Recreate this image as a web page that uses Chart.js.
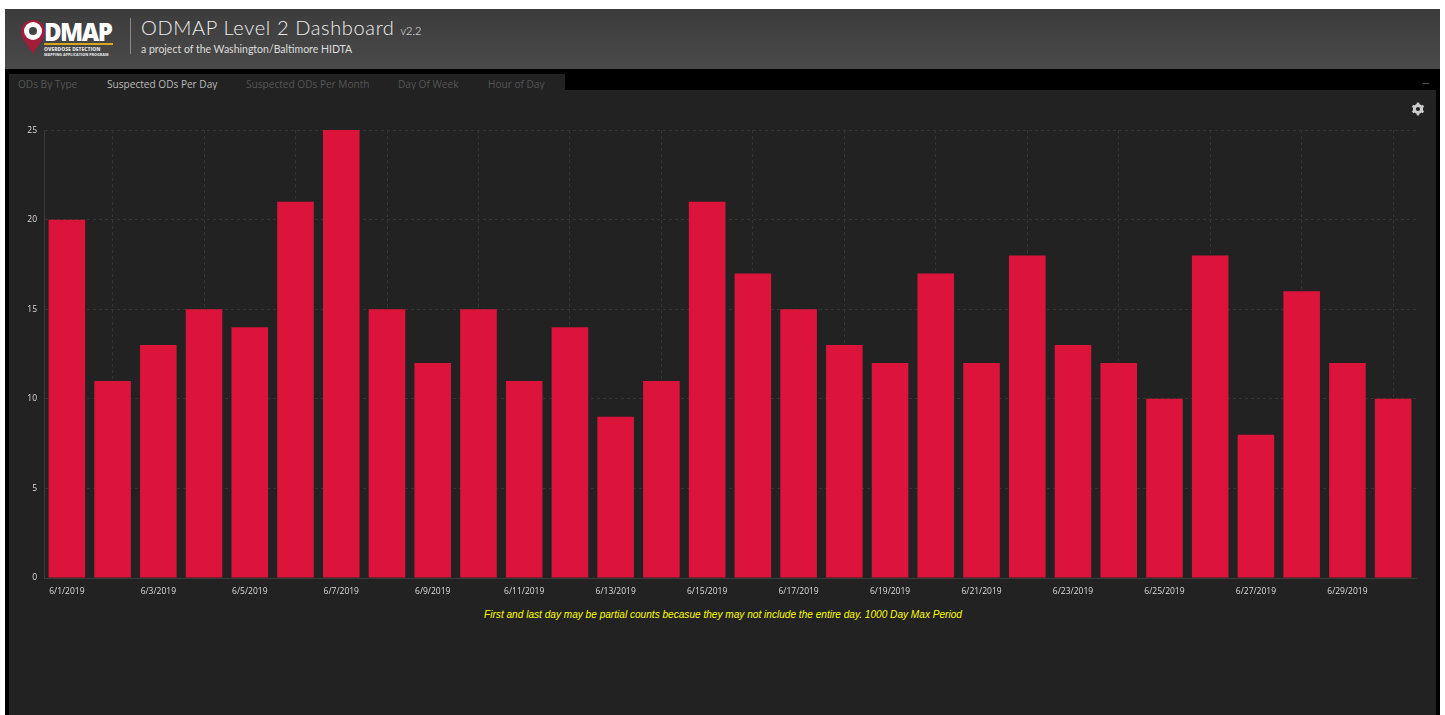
<!DOCTYPE html>
<html lang="en">
<head>
    <meta charset="UTF-8">
    <title>ODMAP Level 2 Dashboard</title>
    <script src="https://cdn.jsdelivr.net/npm/chart.js"></script>
    <style>
        html, body { margin: 0; padding: 0; background: #fff; overflow: hidden; }
        #page { position: relative; width: 1445px; height: 715px; overflow: hidden; }
        #black { position: absolute; left: 5px; top: 69px; width: 1435px; height: 646px; background: #000; }
        #header { position: absolute; left: 5px; top: 9px; width: 1435px; height: 60px;
            background: linear-gradient(#3c3c3c, #4a4a4a); }
        #logoText { position: absolute; left: 39px; top: 10px; font: 900 24px/25px "Open Sans", sans-serif; color: #fff; letter-spacing: -1.5px; }
        #logoBar { position: absolute; left: 39px; top: 34px; width: 69px; height: 2px; background: #d9a520; }
        #logoSub1, #logoSub2 { position: absolute; left: 39px; width: 80px; font: 800 5px/5px "Open Sans", sans-serif; color: #ddd; white-space: nowrap; }
        #logoSub1 { top: 38px; }
        #logoSub2 { top: 43px; font-size: 3.7px; }
        #pin { position: absolute; left: 16px; top: 11px; }
        #divider { position: absolute; left: 125px; top: 9px; width: 1px; height: 36px; background: #888; }
        #title { position: absolute; left: 136px; top: 6px; font: 300 20px/24px Lato, sans-serif; color: #eee; letter-spacing: 0.64px; white-space: nowrap; }
        #title small { font-size: 11px; letter-spacing: 0; }
        #subtitle { position: absolute; left: 136px; top: 32px; font: 400 10.5px/16px Lato, sans-serif; color: #ddd; white-space: nowrap; }
        #tabs { position: absolute; left: 9px; top: 74px; width: 556px; height: 17px; background: #222; }
        .tab { position: absolute; top: 3px; font: 400 10.1px/15px "Open Sans", sans-serif; color: #555; white-space: nowrap; }
        .tab.on { color: #bbb; }
        #minus { position: absolute; left: 1423px; top: 83px; width: 6px; height: 1px; background: #555; }
        #panel { position: absolute; left: 9px; top: 90px; width: 1427px; height: 625px; background: #222; }
        #gear { position: absolute; left: 1411px; top: 102px; }
        #wrap { position: absolute; left: 9px; top: 118px; width: 1427px; height: 482px; }
        #note { position: absolute; left: 9px; top: 608px; width: 1428px; text-align: center;
            font: italic 10.1px/14px "Liberation Sans", sans-serif; color: #ffff00; }
    </style>
</head>
<body>
<div id="page">
    <div id="black"></div>
    <div id="header">
        <svg id="pin" width="24" height="34" viewBox="0 0 24 34">
            <path d="M12 0C5 0 0 5 0 12c0 7 8 14 12 22 4-8 12-15 12-22C24 5 19 0 12 0z" fill="#a51c38"/>
            <circle cx="12" cy="11" r="9" fill="#fff"/>
            <circle cx="12" cy="11" r="4" fill="#444"/>
        </svg>
        <div id="logoText">DMAP</div>
        <div id="logoBar"></div>
        <div id="logoSub1">OVERDOSE DETECTION</div>
        <div id="logoSub2">MAPPING APPLICATION PROGRAM</div>
        <div id="divider"></div>
        <div id="title">ODMAP Level 2 Dashboard <small>v2.2</small></div>
        <div id="subtitle">a project of the Washington/Baltimore HIDTA</div>
    </div>
    <div id="tabs">
        <div class="tab" style="left:9px">ODs By Type</div>
        <div class="tab on" style="left:98px">Suspected ODs Per Day</div>
        <div class="tab" style="left:237px">Suspected ODs Per Month</div>
        <div class="tab" style="left:389px">Day Of Week</div>
        <div class="tab" style="left:479px">Hour of Day</div>
    </div>
    <div id="minus"></div>
    <div id="panel"></div>
    <svg id="gear" width="14" height="14" viewBox="0 0 14 14">
        <circle cx="7" cy="7" r="3.6" fill="none" stroke="#ccc" stroke-width="3"/>
        <g stroke="#ccc" stroke-width="2.6">
            <line x1="7" y1="0.6" x2="7" y2="3"/>
            <line x1="7" y1="11" x2="7" y2="13.4"/>
            <line x1="1.5" y1="3.8" x2="3.5" y2="5"/>
            <line x1="10.5" y1="9" x2="12.5" y2="10.2"/>
            <line x1="1.5" y1="10.2" x2="3.5" y2="9"/>
            <line x1="10.5" y1="5" x2="12.5" y2="3.8"/>
        </g>
    </svg>
    <div id="wrap"><canvas id="odChart"></canvas></div>
    <div id="note">First and last day may be partial counts becasue they may not include the entire day. 1000 Day Max Period</div>
</div>

<script>
    // Suspected ODs per day, June 2019
    const days = ['6/1/2019', '6/2/2019', '6/3/2019', '6/4/2019', '6/5/2019', '6/6/2019', '6/7/2019', '6/8/2019', '6/9/2019', '6/10/2019',
        '6/11/2019', '6/12/2019', '6/13/2019', '6/14/2019', '6/15/2019', '6/16/2019', '6/17/2019', '6/18/2019', '6/19/2019', '6/20/2019',
        '6/21/2019', '6/22/2019', '6/23/2019', '6/24/2019', '6/25/2019', '6/26/2019', '6/27/2019', '6/28/2019', '6/29/2019', '6/30/2019'];
    const counts = [20, 11, 13, 15, 14, 21, 25, 15, 12, 15, 11, 14, 9, 11, 21, 17, 15, 13, 12, 17, 12, 18, 13, 12, 10, 18, 8, 16, 12, 10];

    const tickFont = { family: '"Open Sans", sans-serif', size: 8.5 };
    const gridColor = '#353535';

    const ctx = document.getElementById('odChart').getContext('2d');
    new Chart(ctx, {
        type: 'bar',
        data: {
            labels: days,
            datasets: [{
                data: counts,
                backgroundColor: '#dc143c',
                barPercentage: 0.8,
                categoryPercentage: 1
            }]
        },
        options: {
            responsive: true,
            maintainAspectRatio: false,
            animation: false,
            layout: { padding: { top: 8, right: 20, bottom: 0, left: 0 } },
            plugins: {
                legend: { display: false },
                tooltip: { enabled: false }
            },
            scales: {
                x: {
                    grid: { color: gridColor, drawTicks: false },
                    border: { color: '#3b3b3b', dash: [3, 3] },
                    ticks: { color: '#ddd', font: tickFont, maxRotation: 0, autoSkip: true, maxTicksLimit: 16, padding: 8 },
                    afterFit: function(scale) { scale.height = 22; }
                },
                y: {
                    min: 0,
                    max: 25,
                    grid: { color: gridColor, drawTicks: false },
                    border: { color: '#3b3b3b', dash: [3, 3] },
                    ticks: { color: '#ddd', font: tickFont, stepSize: 5, padding: 7 },
                    afterFit: function(scale) { scale.width = 35; }
                }
            }
        }
    });
</script>
</body>
</html>
